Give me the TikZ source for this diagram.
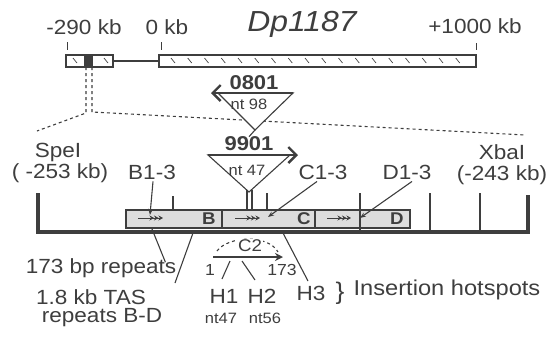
\documentclass[tikz,border=0pt]{standalone}
\usepackage{fontspec}
\setmainfont{Liberation Sans}[FakeStretch=1.1]
\usetikzlibrary{arrows.meta}
\definecolor{ink}{HTML}{3E3E3E}
\definecolor{repfill}{HTML}{DDDDDD}
\tikzset{
  lbl/.style={font=\fontsize{20.5}{22}\selectfont, text=ink, inner sep=0pt},
  sml/.style={font=\fontsize{15}{17}\selectfont, text=ink, inner sep=0pt},
  bar/.style={draw=ink, line width=1.1pt},
  site/.style={draw=ink, line width=1.4pt},
  pointer/.style={draw=ink, line width=1.1pt, -{Stealth[length=6pt,width=4.5pt]}},
  repeats/.style={draw=ink, line width=1pt, -{Stealth[length=4.5pt,width=5pt] Stealth[length=4.5pt,width=5pt] Stealth[length=4.5pt,width=5pt]}},
  element/.style={draw=ink, line width=2.4pt, -{Straight Barb[length=8pt,width=16pt,line width=2.4pt]}}
}
\begin{document}
\begin{tikzpicture}[x=1pt,y=-1pt]
\useasboundingbox (0,0) rectangle (550,338);
% map of Dp1187
\node[lbl] (m290) at (84,27) {-290 kb};
\node[lbl] (m0) at (167,27) {0 kb};
\node[font=\fontsize{29}{31}\selectfont\itshape, text=ink, inner sep=0pt] (dp) at (302,24) {Dp1187};
\node[lbl] (p1000) at (475,26) {+1000 kb};
\draw[ink, line width=0.9pt] (67,42) -- (67,50) (161,42) -- (161,50) (476,43) -- (476,50);
\draw[bar] (66,55) rectangle (113,67);
\fill[ink] (84,55) rectangle (93,67);
\draw[ink, line width=1.8pt] (113,61) -- (159,61);
\draw[bar] (159,55) rectangle (476,67);
\foreach \x in {0,...,17}
  \draw[ink, line width=0.7pt] ({171+16.75*\x},58) -- ++(4,5);
\foreach \x in {73,104}
  \draw[ink, line width=0.7pt] (\x,58) -- ++(4,5);
% expansion
\draw[ink, dashed, line width=1.1pt] (86,67) -- (86,113) -- (37,131);
\draw[ink, dashed, line width=1.1pt] (92,67) -- (92,112) -- (525,135);
% P elements
\draw[ink, line width=1.1pt, fill=white] (218,93) -- (293,93) -- (255,130) -- cycle;
\draw[element] (293,93) -- (211,93);
\node[font=\bfseries\fontsize{20}{22}\selectfont, text=ink, inner sep=0pt] (e0801) at (254,83) {0801};
\node[sml] (nt98) at (249,104) {nt 98};
\node[font=\bfseries\fontsize{20}{22}\selectfont, text=ink, inner sep=0pt] (e9901) at (249,144) {9901};
\draw[ink, line width=1.1pt] (255,130) -- (e9901.north);
\draw[ink, line width=1.1pt, fill=white] (208,155) -- (290,155) -- (249,192) -- cycle;
\draw[element] (208,155) -- (298,155);
\node[sml] (nt47a) at (247,170) {nt 47};
\draw[ink, line width=1.1pt] (247,190) -- (247,210) (252,190) -- (252,210);
% SpeI - XbaI fragment
\draw[ink, line width=3.2pt] (37,232) -- (528,232);
\draw[ink, line width=3.8pt] (38,193) -- (38,233.6) (528,195) -- (528,233.6);
\draw[bar, fill=repfill] (126,210) rectangle (410,228);
\draw[bar] (222,210) -- (222,228) (315,210) -- (315,228);
\node[font=\bfseries\fontsize{17}{19}\selectfont, text=ink, inner sep=0pt] (rb) at (209,219) {B};
\node[font=\bfseries\fontsize{17}{19}\selectfont, text=ink, inner sep=0pt] (rc) at (304,219) {C};
\node[font=\bfseries\fontsize{17}{19}\selectfont, text=ink, inner sep=0pt] (rd) at (397,219) {D};
\draw[repeats] (138,218) -- (163,218);
\draw[repeats] (235,218) -- (260,218);
\draw[repeats] (327,218) -- (351,218);
\draw[site] (173,196) -- (173,210) (267,193) -- (267,210);
\draw[site] (360,193) -- (360,232) (430,193) -- (430,232) (480,193) -- (480,232);
\node[lbl] (spe) at (58,152) {SpeI};
\node[lbl] (spekb) at (60,173) {( -253 kb)};
\node[lbl] (xba) at (502,152) {XbaI};
\node[lbl] (xbakb) at (502,175) {(-243 kb)};
\node[lbl] (b13) at (152,172) {B1-3};
\node[lbl] (c13) at (323,172) {C1-3};
\node[lbl] (d13) at (407,172) {D1-3};
\coordinate (tipb) at (150,215);
\coordinate (tipc) at (268,217);
\coordinate (tipd) at (360,218);
\draw[pointer] ([xshift=1pt,yshift=-2pt]b13.south) -- (tipb);
\draw[pointer] ([xshift=-6pt,yshift=-2pt]c13.south) -- (tipc);
\draw[pointer] ([xshift=5pt,yshift=-2pt]d13.south) -- (tipd);
% repeats
\node[lbl] (rep173) at (101,268) {173 bp repeats};
\node[lbl] (tas) at (91,297) {1.8 kb TAS};
\node[lbl] (tasbd) at (102,318) {repeats B-D};
\coordinate (rep173end) at (152,229);
\coordinate (tasend) at (193,233);
\draw[ink, line width=1.1pt] ([xshift=-11pt,yshift=-4pt]rep173.north east) -- (rep173end);
\draw[ink, line width=1.1pt] (175,283) -- (tasend);
% insertion hotspots
\draw[ink, dashed, line width=1.1pt] (217,251) .. controls (228,236) and (268,234) .. (278,252);
\node[font=\fontsize{17}{19}\selectfont, text=ink, fill=white, inner sep=1pt] (c2) at (250,246) {C2};
\draw[ink, line width=1.7pt, -{Stealth[length=8pt,width=8pt]}] (213,257) -- (283,257);
\node[font=\fontsize{16}{18}\selectfont, text=ink, inner sep=0pt] (one) at (210,270) {1};
\node[font=\fontsize{16}{18}\selectfont, text=ink, inner sep=0pt] (n173) at (282,270) {173};
\node[lbl] (h1) at (224,296) {H1};
\node[lbl] (h2) at (262,296) {H2};
\node[lbl] (h3) at (311,293) {H3};
\node[sml] (nt47) at (221,318) {nt47};
\node[sml] (nt56) at (265,318) {nt56};
\coordinate (h1top) at (230,261);
\coordinate (h2top) at (242,261);
\coordinate (h3top) at (283,233);
\draw[ink, line width=1.1pt] (h1top) -- (222,279);
\draw[ink, line width=1.1pt] (h2top) -- (255,280);
\draw[ink, line width=1.1pt] (h3top) -- (308,281);
\node[font=\fontsize{24}{26}\selectfont, text=ink, inner sep=0pt] (brace) at (340,293) {\}};
\node[font=\fontsize{21.5}{24}\selectfont, text=ink, inner sep=0pt] (hot) at (447,290) {Insertion hotspots};
\end{tikzpicture}
\end{document}
